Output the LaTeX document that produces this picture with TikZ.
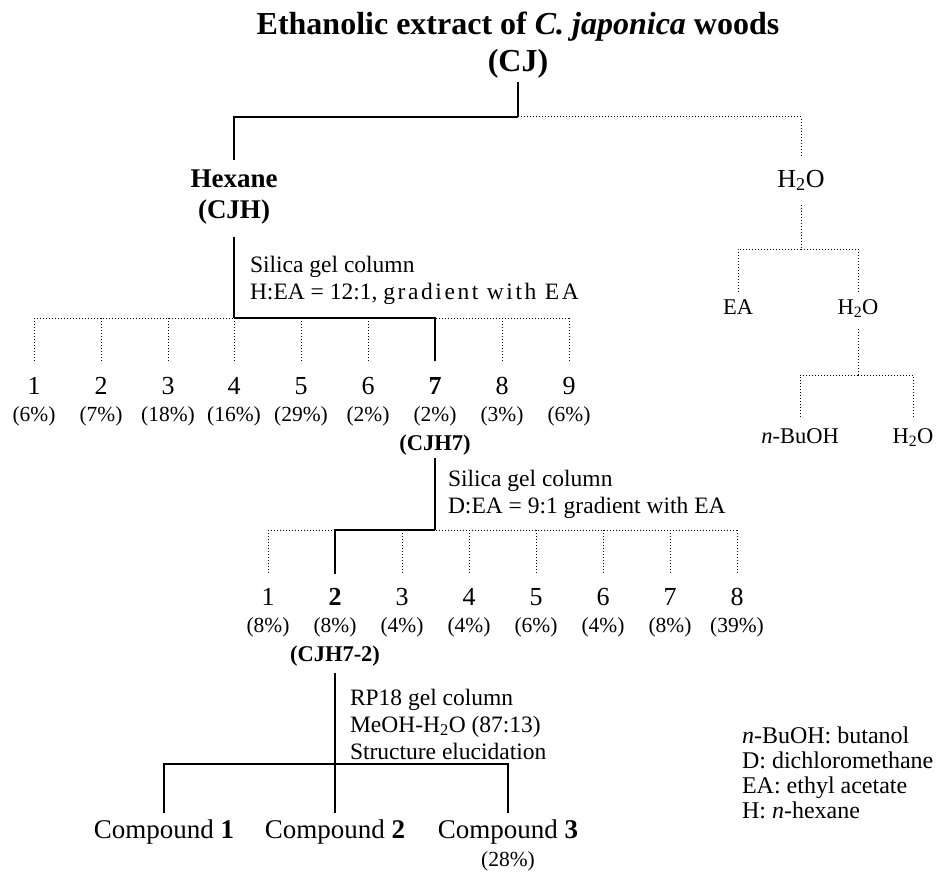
\documentclass[tikz,border=0pt]{standalone}
\usepackage{fontspec}
\setmainfont{Liberation Serif}
\begin{document}
\begin{tikzpicture}[x=1pt,y=-1pt,
  every node/.style={inner sep=0pt, outer sep=0pt},
  solidln/.style={line width=1.5pt},
  dotln/.style={line width=1pt, dash pattern=on 1pt off 2pt},
  ttl/.style={font=\fontsize{32}{36}\selectfont\bfseries, anchor=base},
  lbl/.style={font=\fontsize{27}{32}\selectfont\bfseries, anchor=base},
  sublbl/.style={font=\fontsize{22.5}{27}\selectfont\bfseries, anchor=base},
  bigtxt/.style={font=\fontsize{26}{30}\selectfont, anchor=base},
  midtxt/.style={font=\fontsize{22.5}{27}\selectfont, anchor=base},
  num/.style={font=\fontsize{26}{30}\selectfont, anchor=base},
  pct/.style={font=\fontsize{21.5}{25}\selectfont, anchor=base},
  note/.style={font=\fontsize{23.5}{28}\selectfont, anchor=base west},
  legend/.style={font=\fontsize{24}{28}\selectfont, anchor=base west},
  comp/.style={font=\fontsize{27}{32}\selectfont, anchor=base}]
\useasboundingbox (0,0) rectangle (942,872);

% ---- top ----
\node[ttl] (title) at (518,35) {Ethanolic extract of \textit{C. japonica} woods};
\node[ttl] (cj) at (518,72) {(CJ)};
\node[lbl] (hex) at (234,187) {Hexane};
\node[lbl] (cjh) at (234,218) {(CJH)};
\node[bigtxt] (wa) at (801,187) {H\textsubscript{2}O};
\coordinate (jA) at (518,117);
\draw[solidln, shorten <=3pt] (cj.south) -- (jA);
\draw[solidln, shorten >=9pt] (jA) -| (hex.north);
\draw[dotln, shorten >=12pt] (jA) -| (wa.north);

% ---- water branch ----
\node[midtxt] (ea) at (738,314) {EA};
\node[midtxt] (wb) at (858,314) {H\textsubscript{2}O};
\coordinate (jW1) at (801,249);
\draw[dotln, shorten <=14pt] (wa.south) -- (jW1);
\draw[dotln, shorten >=8pt] (jW1) -| (ea.north);
\draw[dotln, shorten >=8pt] (jW1) -| (wb.north);
\node[midtxt] (bu) at (800,443) {\textit{n}-BuOH};
\node[midtxt] (wc) at (913,443) {H\textsubscript{2}O};
\coordinate (jW2) at (858,375);
\draw[dotln, shorten <=12pt] (wb.south) -- (jW2);
\draw[dotln, shorten >=10pt] (jW2) -| (bu.north);
\draw[dotln, shorten >=10pt] (jW2) -| (wc.north);

% ---- first column ----
\node[note] (s1a) at (250,272) {Silica gel column};
\node[note] (s1b) at (250,299) {H:EA = 12:1, {\addfontfeature{LetterSpace=11}gradient with EA}};
\coordinate (jB) at (234,318);
\draw[solidln, shorten <=13pt] (cjh.south) -- (jB);
\foreach \i/\x/\p in {1/34/6,2/101/7,3/168/18,4/234/16,5/301/29,6/368/2,7/435/2,8/502/3,9/569/6}{
  \ifnum\i=7
    \node[num, font=\fontsize{26}{30}\selectfont\bfseries] (ra\i) at (\x,394) {\i};
  \else
    \node[num] (ra\i) at (\x,394) {\i};
  \fi
  \node[pct] (pa\i) at (\x,421) {(\p\%)};
}
\draw[dotln] (ra1.north |- jB) -- (ra9.north |- jB);
\foreach \i in {1,...,9}{
  \draw[dotln, shorten >=16pt] (ra\i.north |- jB) -- (ra\i.north);
}
\draw[solidln, shorten >=16pt] (jB) -| (ra7.north);

\node[sublbl] (cjh7) at (435,450) {(CJH7)};

% ---- second column ----
\node[note] (s2a) at (448,486) {Silica gel column};
\node[note] (s2b) at (448,513) {D:EA = 9:1 gradient with EA};
\coordinate (jC) at (435,530);
\draw[solidln, shorten <=3pt] (cjh7.south) -- (jC);
\foreach \i/\x/\p in {1/268/8,2/335/8,3/402/4,4/469/4,5/536/6,6/603/4,7/670/8,8/737/39}{
  \ifnum\i=2
    \node[num, font=\fontsize{26}{30}\selectfont\bfseries] (rb\i) at (\x,605) {\i};
  \else
    \node[num] (rb\i) at (\x,605) {\i};
  \fi
  \node[pct] (pb\i) at (\x,632) {(\p\%)};
}
\draw[dotln] (rb1.north |- jC) -- (rb8.north |- jC);
\foreach \i in {1,...,8}{
  \draw[dotln, shorten >=14pt] (rb\i.north |- jC) -- (rb\i.north);
}
\draw[solidln, shorten >=14pt] (jC) -| (rb2.north);

\node[sublbl] (cjh72) at (335,661) {(CJH7-2)};

% ---- third column ----
\node[note] (s3a) at (350,705) {RP18 gel column};
\node[note] (s3b) at (350,732) {MeOH-H\textsubscript{2}O (87:13)};
\node[note] (s3c) at (350,759) {Structure elucidation};
\coordinate (jD) at (335,764);
\draw[solidln, shorten <=7pt] (cjh72.south) -- (jD);
\node[comp] (c1) at (164,838) {Compound \textbf{1}};
\node[comp] (c2) at (335,838) {Compound \textbf{2}};
\node[comp] (c3) at (508,838) {Compound \textbf{3}};
\node[pct] (c3p) at (508,866) {(28\%)};
\draw[solidln, shorten >=6pt] (jD) -| (c1.north);
\draw[solidln, shorten >=6pt] (jD) -- (c2.north);
\draw[solidln, shorten >=6pt] (jD) -| (c3.north);

% ---- legend ----
\node[legend] (l1) at (742,743) {\textit{n}-BuOH: butanol};
\node[legend] (l2) at (742,768) {D: dichloromethane};
\node[legend] (l3) at (742,793) {EA: ethyl acetate};
\node[legend] (l4) at (742,818) {H: \textit{n}-hexane};
\end{tikzpicture}
\end{document}
